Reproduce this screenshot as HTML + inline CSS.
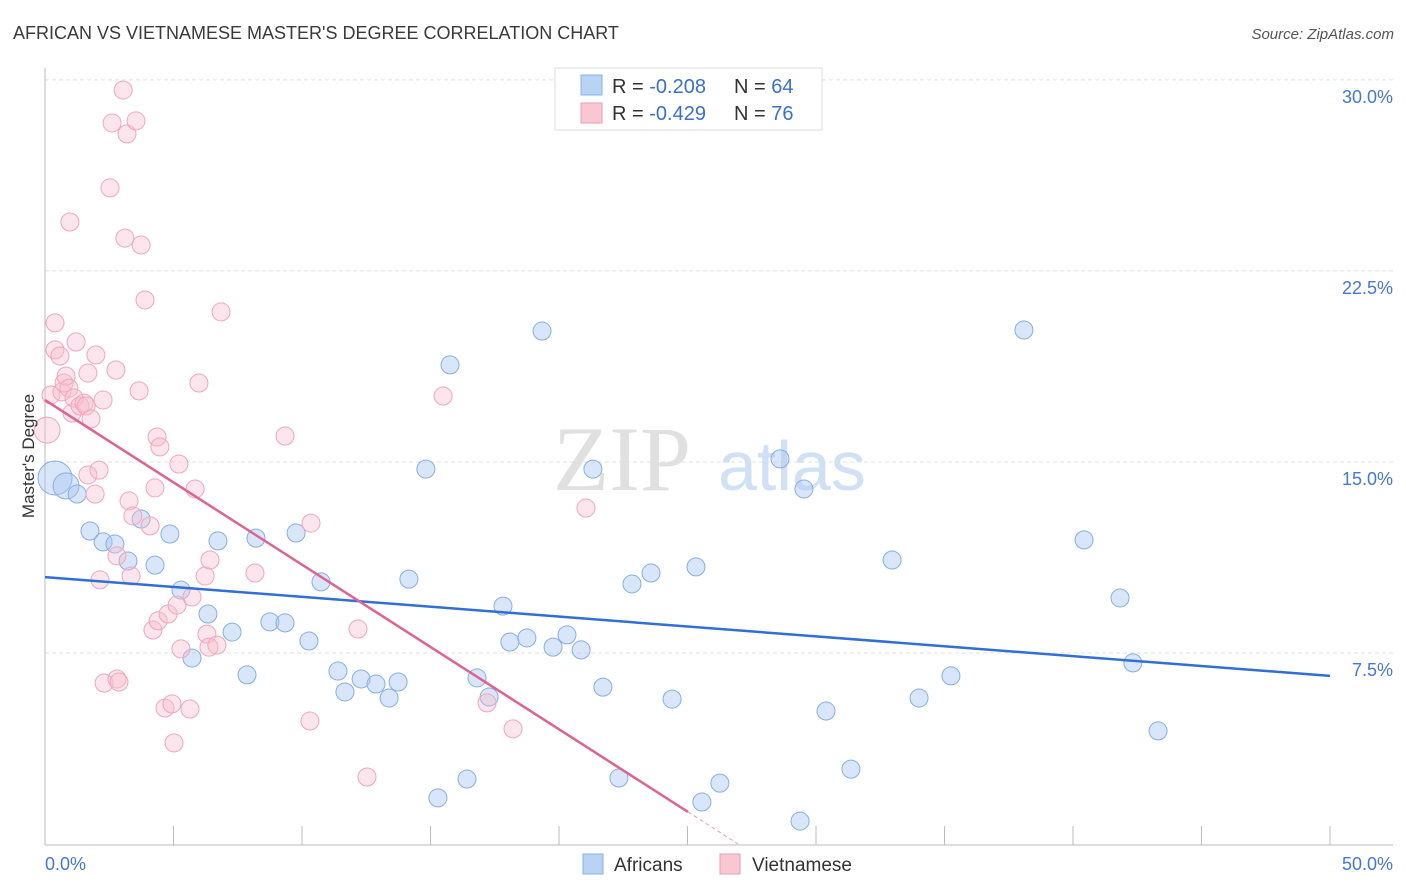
<!DOCTYPE html>
<html><head><meta charset="utf-8"><style>
body{margin:0;background:#fff;font-family:"Liberation Sans",sans-serif;}
</style></head><body>
<svg id="chart" width="1406" height="892" xmlns="http://www.w3.org/2000/svg" style="display:block">
<text x="13" y="39" font-size="18" fill="#3a3a3a" font-family="Liberation Sans, sans-serif">AFRICAN VS VIETNAMESE MASTER'S DEGREE CORRELATION CHART</text>
<text x="1394" y="39" font-size="15" fill="#555" text-anchor="end" font-style="italic">Source: ZipAtlas.com</text>
<g id="grid"></g>
<text x="553" y="490" font-size="92" fill="#e0e0e0" font-family="Liberation Serif, serif">ZIP</text>
<text x="718" y="490" font-size="70" fill="#d0e0f5" font-family="Liberation Sans, sans-serif">atlas</text>
<g id="axes"></g>
<g id="pts"></g>
<g id="trends"></g>
<text transform="translate(34,456) rotate(-90)" font-size="17" fill="#333" text-anchor="middle">Master's Degree</text>
<g>
<rect x="555" y="68" width="267" height="62" fill="#fff" stroke="#ddd"/>
<rect x="581" y="75" width="21" height="20" fill="#b9d3f5" stroke="#8ab0e6"/>
<rect x="581" y="103" width="21" height="20" fill="#f9c6d4" stroke="#ee9cb5"/>
<text x="612" y="93" font-size="20" fill="#333">R = <tspan fill="#3a6fd0">-0.208</tspan><tspan x="734">N = </tspan><tspan fill="#3a6fd0">64</tspan></text>
<text x="612" y="120" font-size="20" fill="#333">R = <tspan fill="#3a6fd0">-0.429</tspan><tspan x="734">N = </tspan><tspan fill="#3a6fd0"> 76</tspan></text>
</g>
<g>
<rect x="583" y="854" width="20" height="20" fill="#b9d3f5" stroke="#8ab0e6"/>
<text x="614" y="871" font-size="19" fill="#333">Africans</text>
<rect x="720" y="854" width="20" height="20" fill="#f9c6d4" stroke="#ee9cb5"/>
<text x="752" y="871" font-size="19" fill="#333">Vietnamese</text>
</g>
</svg>
<script>
const yTicks=[7.5,15,22.5,30];
const yTickLabels=["7.5%","15.0%","22.5%","30.0%"];
const xTickLabels=["0.0%","50.0%"];
const africansX=[0.39,0.82,1.25,1.75,2.26,2.72,3.23,3.74,4.28,4.86,5.29,5.72,6.34,6.73,7.28,7.86,8.21,8.75,9.34,9.77,10.27,10.74,11.40,11.67,12.30,12.88,13.39,13.74,14.16,14.82,15.29,15.76,16.42,16.81,17.28,17.82,18.09,18.75,19.34,19.77,20.31,20.86,21.32,21.71,22.33,22.84,23.58,24.40,25.33,25.56,26.26,28.60,29.38,29.53,30.39,31.36,32.96,34.01,35.25,38.09,40.43,41.83,42.33,43.31];
const africansY=[14.37,14.06,13.74,12.29,11.86,11.78,11.11,12.76,10.95,12.17,9.97,7.30,9.03,11.90,8.32,6.64,12.01,8.72,8.68,12.21,7.97,10.29,6.79,5.97,6.48,6.28,5.73,6.36,10.40,14.72,1.81,18.81,2.55,6.52,5.77,9.34,7.93,8.09,20.14,7.73,8.21,7.62,14.72,6.16,2.59,10.21,10.64,5.69,10.88,1.65,2.39,15.12,0.90,13.94,5.22,2.94,11.15,5.73,6.60,20.18,11.94,9.66,7.11,4.44];
const vietX=[0.08,0.23,0.39,0.39,0.58,0.66,0.74,0.82,0.93,0.97,1.05,1.13,1.21,1.36,1.52,1.60,1.67,1.67,1.79,1.95,1.98,2.10,2.14,2.26,2.30,2.53,2.61,2.76,2.80,2.88,2.80,3.04,3.11,3.19,3.27,3.35,3.42,3.54,3.66,3.74,3.89,4.09,4.20,4.28,4.36,4.40,4.47,4.67,4.79,4.94,5.02,5.14,5.21,5.29,5.64,5.72,5.84,5.99,6.23,6.30,6.38,6.42,6.69,6.85,8.17,9.34,10.31,10.35,12.18,12.53,15.49,17.20,18.21,21.05];
const vietY=[16.25,17.63,20.46,19.40,19.16,17.75,18.10,18.37,17.90,24.42,16.92,17.51,19.71,17.20,17.31,17.20,18.49,14.49,16.69,13.74,19.20,14.68,10.37,17.43,6.32,25.76,28.31,18.61,6.48,6.36,11.31,29.60,23.79,27.88,13.47,10.52,12.88,28.39,17.79,23.52,21.36,12.49,8.40,13.98,15.98,8.76,15.59,5.34,9.03,5.50,3.97,9.38,14.92,7.66,5.30,9.70,13.94,18.10,10.52,8.24,7.73,11.15,7.81,20.89,10.64,16.02,4.83,12.60,8.44,2.63,17.59,5.54,4.52,13.19];
const africanTrend=[10.48,6.60];
const vietTrend=[17.43,1.26,25.02];
const NS="http://www.w3.org/2000/svg";
const X=v=>45+v*25.7, Y=v=>844-v*25.47;
function mk(p,t,a){const e=document.createElementNS(NS,t);for(const k in a)e.setAttribute(k,a[k]);p.appendChild(e);return e;}
const grid=document.getElementById('grid'),axes=document.getElementById('axes'),pts=document.getElementById('pts'),tr=document.getElementById('trends');
yTicks.forEach((t,i)=>{
 const l=mk(grid,'line',{x1:45,x2:1393,y1:Y(t),y2:Y(t),stroke:'#e2e2e2','stroke-dasharray':'4,3'});
 
 
 const tx=mk(grid,'text',{x:1393,y:Y(t)+23,'font-size':18,fill:'#4477d6','text-anchor':'end'});
 tx.textContent=yTickLabels[i];
 
 
});
mk(axes,'line',{x1:45,x2:45,y1:68,y2:845,stroke:'#bbb'});
mk(axes,'line',{x1:45,x2:1393,y1:845,y2:845,stroke:'#bbb'});
for(let i=1;i<=10;i++){const x=X(i*5);mk(axes,'line',{x1:x,x2:x,y1:826,y2:845,stroke:'#bbb'});}
[[0,'start',45],[1,'end',1393]].forEach(([i,a,x])=>{const t=mk(axes,'text',{x:x,y:870,'font-size':18,fill:'#4477d6','text-anchor':a});t.textContent=xTickLabels[i];
 
 });
africansX.forEach((x,i)=>{const r=i==0?17:(i==1?13:9);
 const c=mk(pts,'circle',{cx:X(x),cy:Y(africansY[i]),r:r,fill:'rgba(170,200,242,0.45)',stroke:'#86aee4','stroke-width':1});
 
 });
vietX.forEach((x,i)=>{const r=i==0?13:9;
 const c=mk(pts,'circle',{cx:X(x),cy:Y(vietY[i]),r:r,fill:'rgba(248,190,208,0.4)',stroke:'#f0a6bd','stroke-width':1});
 
 });
const bl=mk(tr,'line',{x1:X(0),y1:Y(africanTrend[0]),x2:X(50),y2:Y(africanTrend[1]),stroke:'#2f6fd6','stroke-width':2.5});


const pl=mk(tr,'line',{x1:X(0),y1:Y(vietTrend[0]),x2:X(vietTrend[2]),y2:Y(vietTrend[1]),stroke:'#e0628f','stroke-width':2.5});


const slope=(vietTrend[1]-vietTrend[0])/vietTrend[2];const xe=-vietTrend[0]/slope;
const pd=mk(tr,'line',{x1:X(vietTrend[2]),y1:Y(vietTrend[1]),x2:X(xe),y2:Y(0),stroke:'#e0a0b8','stroke-width':1,'stroke-dasharray':'4,3'});


</script>
</body></html>
